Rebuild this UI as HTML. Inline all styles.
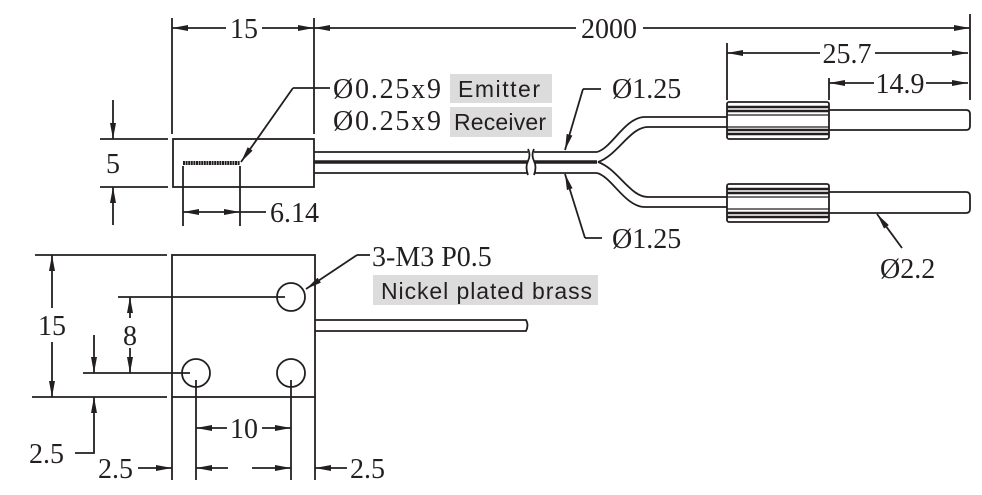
<!DOCTYPE html>
<html><head><meta charset="utf-8"><style>
html,body{margin:0;padding:0;background:#fff;}
svg{display:block}
.n{font-family:"Liberation Serif",serif;font-size:28px;fill:#231f20}
.s{font-family:"Liberation Sans",sans-serif;font-size:23px;fill:#231f20}
</style></head><body>
<svg width="982" height="495" viewBox="0 0 982 495" xmlns="http://www.w3.org/2000/svg">
<defs>
<marker id="b" viewBox="0 0 16 6" refX="16" refY="3" markerWidth="16" markerHeight="6" markerUnits="userSpaceOnUse" orient="auto-start-reverse"><path d="M0,0 L16,3 L0,6 Z" fill="#231f20"/></marker>
</defs>
<g stroke="#231f20" stroke-width="1.8" fill="none">
<line x1="172" y1="18" x2="172" y2="134"/>
<line x1="314" y1="18" x2="314" y2="134"/>
<line x1="970" y1="14" x2="970" y2="100"/>
<line x1="172" y1="28" x2="226" y2="28" marker-start="url(#b)"/>
<line x1="262" y1="28" x2="314" y2="28" marker-end="url(#b)"/>
<line x1="314" y1="28" x2="576" y2="28" marker-start="url(#b)"/>
<line x1="643" y1="28" x2="970" y2="28" marker-end="url(#b)"/>
<rect x="173" y="139" width="141" height="48"/>
<line x1="183" y1="163" x2="240" y2="163" stroke-width="4" stroke-dasharray="2 0.6"/>
<line x1="330" y1="88" x2="293" y2="88"/>
<line x1="293" y1="88" x2="241" y2="162" marker-end="url(#b)"/>
<line x1="100" y1="139" x2="168" y2="139"/>
<line x1="100" y1="187" x2="168" y2="187"/>
<line x1="113" y1="100" x2="113" y2="139" marker-end="url(#b)"/>
<line x1="113" y1="225" x2="113" y2="187" marker-end="url(#b)"/>
<line x1="183" y1="166" x2="183" y2="226"/>
<line x1="240" y1="166" x2="240" y2="226"/>
<line x1="183" y1="212" x2="240" y2="212" marker-start="url(#b)" marker-end="url(#b)"/>
<line x1="240" y1="212" x2="266" y2="212"/>
<line x1="314" y1="152" x2="528" y2="152"/>
<line x1="314" y1="162" x2="528" y2="162" stroke-width="3.5"/>
<line x1="314" y1="173" x2="528" y2="173"/>
<path d="M528,149 q3,6 0,12 q-3,6 0,14"/>
<path d="M534,149 q-3,6 0,12 q3,6 0,14"/>
<line x1="534" y1="152" x2="597" y2="152"/>
<line x1="534" y1="162" x2="597" y2="162" stroke-width="3.5"/>
<line x1="534" y1="173" x2="597" y2="173"/>
<path d="M597,152 C612,148 625,117 645,117 L727,117"/>
<path d="M598,162 C618,155 630,127 648,127 L727,127"/>
<path d="M598,162 C618,169 630,197 648,197 L727,197"/>
<path d="M597,173 C612,177 625,207 645,207 L727,207"/>
<rect x="727" y="102" width="102" height="37" rx="2"/>
<line x1="727" y1="107" x2="829" y2="107" stroke-width="2.5"/>
<line x1="727" y1="111" x2="829" y2="111" stroke-width="2.5"/>
<line x1="727" y1="115" x2="829" y2="115" stroke-width="1.2"/>
<line x1="727" y1="127" x2="829" y2="127" stroke-width="1.2"/>
<line x1="727" y1="130" x2="829" y2="130" stroke-width="2.5"/>
<line x1="727" y1="134" x2="829" y2="134" stroke-width="2.5"/>
<path d="M829,110 L966,110 Q970,110 970,114 L970,126 Q970,130 966,130 L829,130"/>
<rect x="727" y="184" width="102" height="38" rx="2"/>
<line x1="727" y1="189" x2="829" y2="189" stroke-width="2.5"/>
<line x1="727" y1="193" x2="829" y2="193" stroke-width="2.5"/>
<line x1="727" y1="197" x2="829" y2="197" stroke-width="1.2"/>
<line x1="727" y1="209" x2="829" y2="209" stroke-width="1.2"/>
<line x1="727" y1="213" x2="829" y2="213" stroke-width="2.5"/>
<line x1="727" y1="217" x2="829" y2="217" stroke-width="2.5"/>
<path d="M829,192 L966,192 Q970,192 970,196 L970,209 Q970,213 966,213 L829,213"/>
<line x1="727" y1="43" x2="727" y2="100"/>
<line x1="829" y1="78" x2="829" y2="100"/>
<line x1="727" y1="53" x2="820" y2="53" marker-start="url(#b)"/>
<line x1="875" y1="53" x2="968" y2="53" marker-end="url(#b)"/>
<line x1="829" y1="83" x2="874" y2="83" marker-start="url(#b)"/>
<line x1="926" y1="83" x2="968" y2="83" marker-end="url(#b)"/>
<polyline points="601,89 583,89"/>
<line x1="583" y1="89" x2="565" y2="150" marker-end="url(#b)"/>
<polyline points="602,238 585,238"/>
<line x1="585" y1="238" x2="565" y2="174" marker-end="url(#b)"/>
<line x1="902" y1="248" x2="877" y2="214" marker-end="url(#b)"/>
<rect x="172" y="255" width="143" height="142"/>
<line x1="35" y1="255" x2="167" y2="255"/>
<line x1="32" y1="397" x2="167" y2="397"/>
<line x1="172" y1="397" x2="172" y2="480"/>
<line x1="315" y1="397" x2="315" y2="480"/>
<circle cx="291" cy="297" r="14"/>
<circle cx="196" cy="373" r="14"/>
<circle cx="291" cy="373" r="14"/>
<line x1="118" y1="297" x2="285" y2="297"/>
<line x1="83" y1="373" x2="190" y2="373"/>
<line x1="196" y1="380" x2="196" y2="480"/>
<line x1="291" y1="380" x2="291" y2="480"/>
<line x1="52" y1="308" x2="52" y2="255" marker-end="url(#b)"/>
<line x1="52" y1="342" x2="52" y2="397" marker-end="url(#b)"/>
<line x1="130" y1="318" x2="130" y2="297" marker-end="url(#b)"/>
<line x1="130" y1="348" x2="130" y2="373" marker-end="url(#b)"/>
<line x1="94" y1="335" x2="94" y2="373" marker-end="url(#b)"/>
<polyline points="75,453 94,453 94,420"/>
<line x1="94" y1="420" x2="94" y2="397" marker-end="url(#b)"/>
<line x1="196" y1="428" x2="227" y2="428" marker-start="url(#b)"/>
<line x1="262" y1="428" x2="291" y2="428" marker-end="url(#b)"/>
<line x1="138" y1="468" x2="172" y2="468" marker-end="url(#b)"/>
<line x1="228" y1="468" x2="196" y2="468" marker-end="url(#b)"/>
<line x1="252" y1="468" x2="291" y2="468" marker-end="url(#b)"/>
<line x1="347" y1="468" x2="315" y2="468" marker-end="url(#b)"/>
<polyline points="370,255 357,255"/>
<line x1="357" y1="255" x2="306" y2="289" marker-end="url(#b)"/>
<path d="M315,320 L526,320 Q529,325 526,331 L315,331"/>
</g>
<rect x="450" y="74" width="102" height="29" fill="#dcdcdc"/>
<rect x="450" y="107" width="102" height="30" fill="#dcdcdc"/>
<rect x="373" y="275" width="225" height="30" fill="#dcdcdc"/>
<g class="n">
<text x="244" y="38" text-anchor="middle">15</text>
<text x="609" y="38" text-anchor="middle">2000</text>
<text x="847" y="63" text-anchor="middle">25.7</text>
<text x="900" y="93" text-anchor="middle">14.9</text>
<text x="333" y="98" textLength="108">Ø0.25x9</text>
<text x="333" y="130" textLength="108">Ø0.25x9</text>
<text x="612" y="98">Ø1.25</text>
<text x="612" y="248">Ø1.25</text>
<text x="880" y="278">Ø2.2</text>
<text x="113" y="173" text-anchor="middle">5</text>
<text x="270" y="222">6.14</text>
<text x="372" y="266">3-M3 P0.5</text>
<text x="52" y="335" text-anchor="middle">15</text>
<text x="130" y="345" text-anchor="middle">8</text>
<text x="244" y="438" text-anchor="middle">10</text>
<text x="29" y="463">2.5</text>
<text x="98" y="478">2.5</text>
<text x="350" y="478">2.5</text>
</g>
<g class="s">
<text x="458" y="97" textLength="82">Emitter</text>
<text x="454" y="130" textLength="92">Receiver</text>
<text x="381" y="299" textLength="211">Nickel plated brass</text>
</g>
</svg>
</body></html>
